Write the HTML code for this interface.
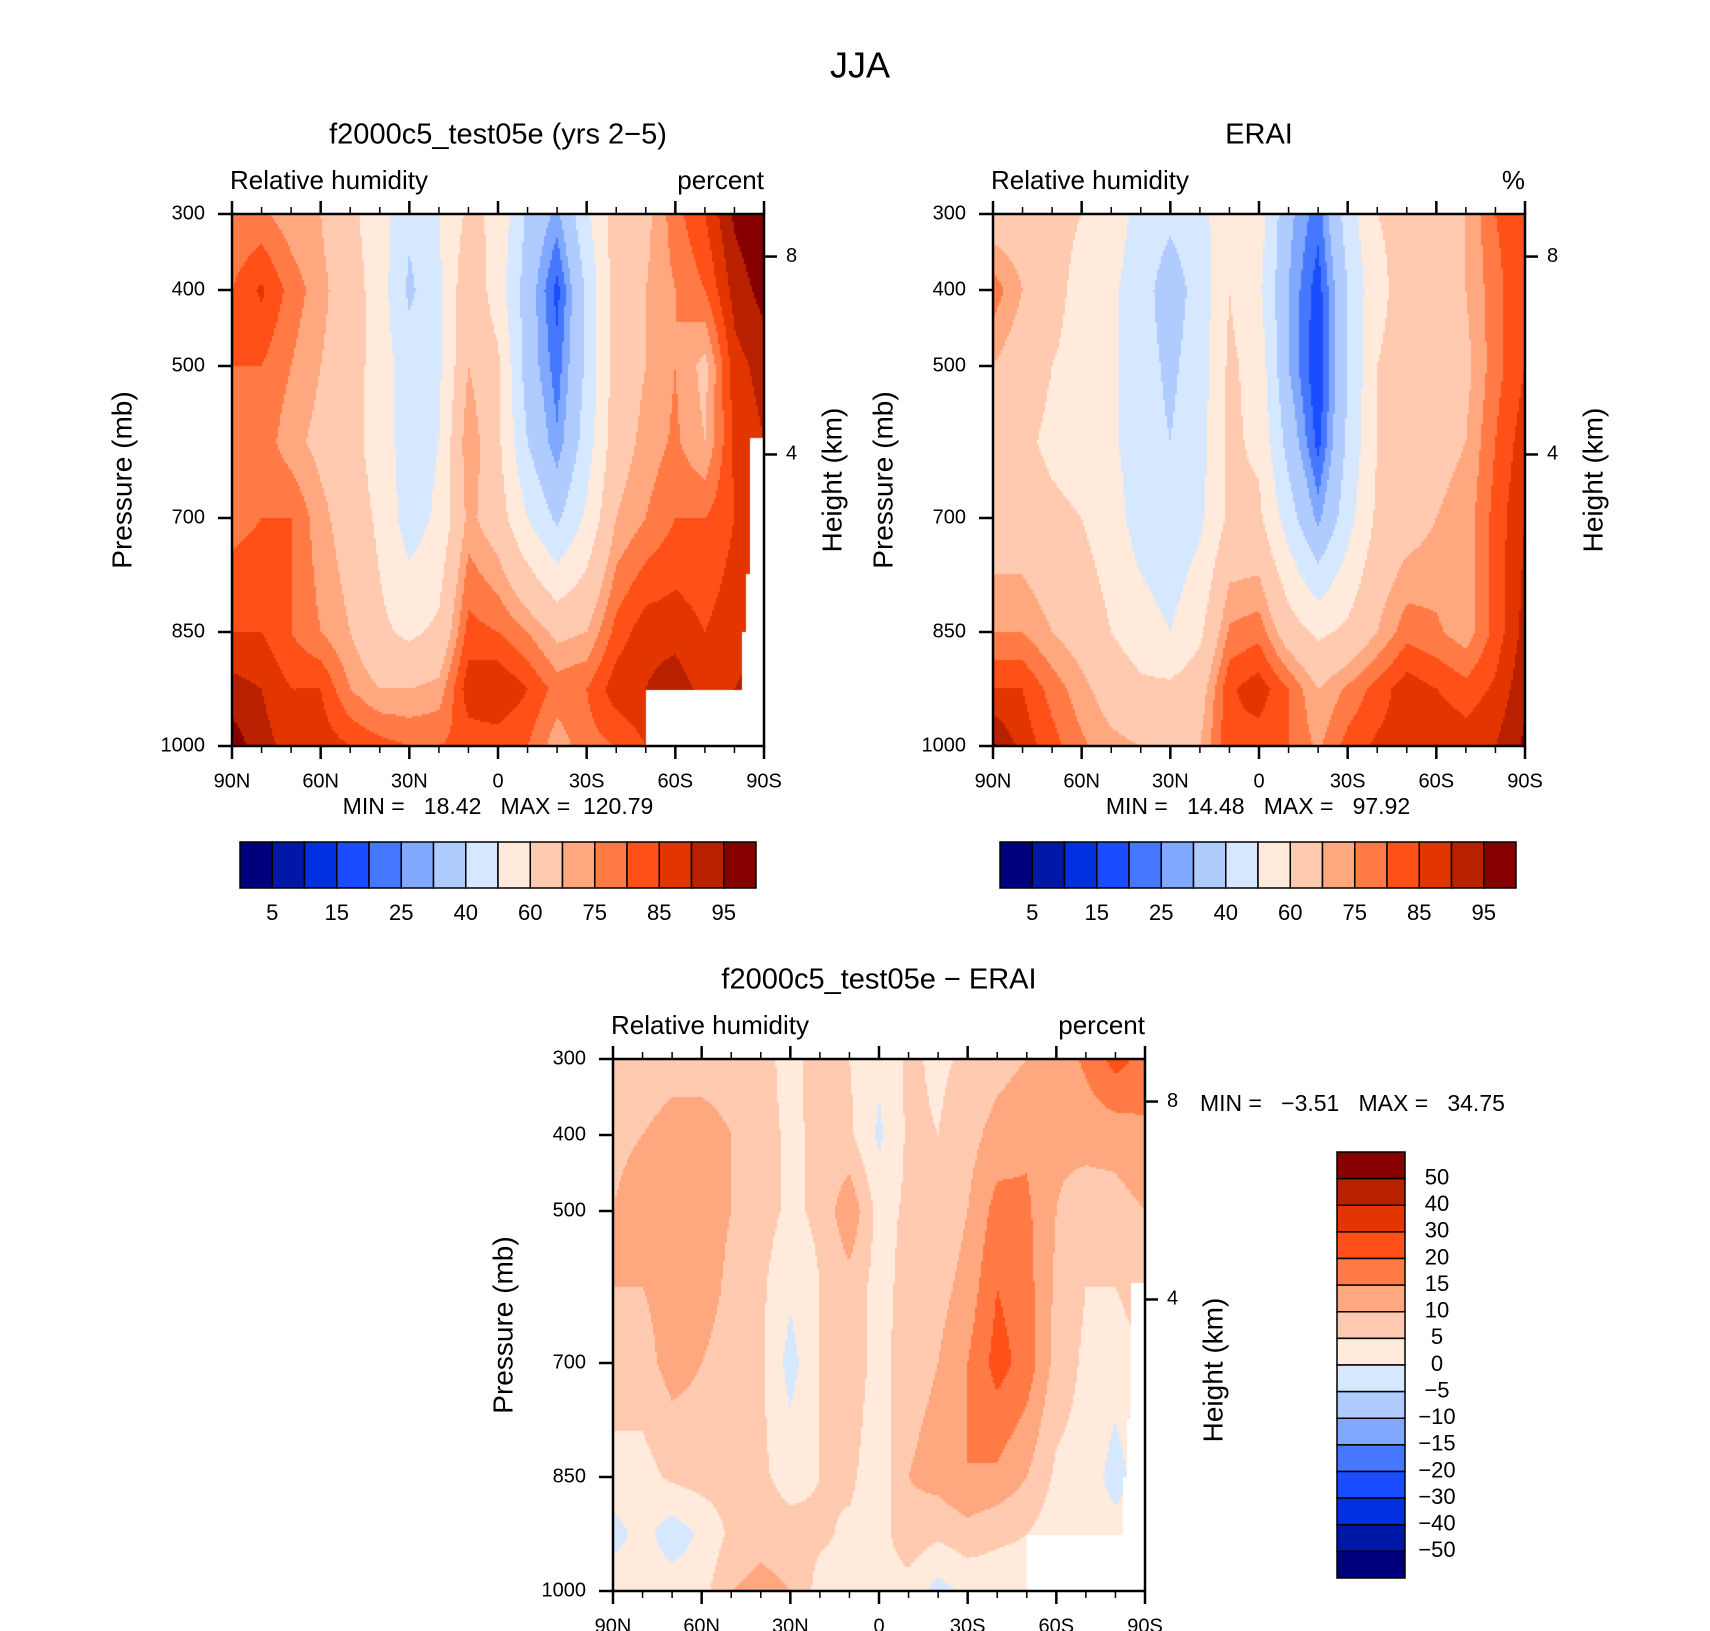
<!DOCTYPE html>
<html><head><meta charset="utf-8">
<style>
html,body{margin:0;padding:0;background:#fff;}
#wrap{position:relative;width:1710px;height:1631px;overflow:hidden;font-family:"Liberation Sans",sans-serif;}
canvas{position:absolute;}
svg{position:absolute;left:0;top:0;}
svg text{font-family:"Liberation Sans",sans-serif;fill:#000;white-space:pre;}
</style></head>
<body>
<div id="wrap">
<canvas id="c1"></canvas>
<canvas id="c2"></canvas>
<canvas id="c3"></canvas>
<svg id="svg" width="1710" height="1631"></svg>
</div>
<script>
const lats=[90,80,70,60,50,40,30,20,10,0,-10,-20,-30,-40,-50,-60,-70,-80,-90];
const plevs=[300,400,500,600,700,850,925,1000];
const modelRH=[
[75,80,80,80,78,85,92,98],[76,86,80,78,80,85,90,92],[72,78,75,72,80,80,85,88],[70,72,70,68,72,75,85,88],
[62,65,65,64,66,70,75,85],[55,55,55,55,58,62,70,82],[42,38,45,45,45,58,70,80],[50,48,48,50,52,62,72,80],
[62,68,70,75,72,82,88,82],[58,55,62,62,65,80,90,82],[38,35,35,40,50,75,85,80],[28,18,22,26,38,68,78,72],
[48,42,42,45,52,70,80,78],[65,65,65,66,70,82,88,80],[68,70,70,72,75,88,90,85],[78,75,75,76,80,88,93,90],
[85,80,68,70,80,85,88,88],[96,92,88,86,85,88,90,90],[100,97,92,90,88,90,92,92]];
const eraiRH=[
[65,78,70,65,65,75,85,96],[65,70,65,62,65,75,85,88],[62,62,60,58,62,70,78,82],[60,58,58,56,60,66,72,76],
[56,52,52,52,55,60,66,72],[46,44,44,44,45,55,62,70],[42,35,38,40,42,50,62,66],[46,44,45,46,48,58,66,70],
[58,60,62,62,62,76,84,84],[55,52,56,58,62,78,88,82],[32,30,30,36,45,65,80,80],[22,17,15,18,28,58,70,74],
[45,40,40,42,46,62,76,82],[60,58,60,60,62,70,82,86],[62,63,63,64,66,78,88,88],[66,68,68,68,70,76,85,90],
[70,70,68,70,72,72,82,88],[80,78,78,80,82,82,86,90],[85,85,85,88,90,92,94,96]];
const diffRH=[
[7,9,10,10,8,3,-2,3],[7,10,12,10,8,3,2,3],[8,12,13,12,12,6,-3,3],[8,12,12,12,10,7,1,3],
[8,10,10,9,8,7,6,10],[7,7,7,6,6,6,8,12],[3,4,4,1,-2,3,7,10],[8,6,6,5,5,5,6,3],
[5,6,14,8,8,6,4,3],[1,-1,3,3,3,2,3,3],[6,6,6,7,8,10,8,3],[4,5,6,8,10,12,6,-2],
[6,8,10,12,15,15,8,1],[8,12,17,20,22,14,6,2],[10,14,16,17,18,10,5,3],[12,11,10,9,8,4,2,2],
[16,12,7,5,4,3,2,2],[22,12,8,5,2,-2,2,2],[18,14,10,8,5,3,2,2]];
const absLevels=[5,10,15,20,25,30,40,50,60,70,75,80,85,90,95];
const absLabels=["5","15","25","40","60","75","85","95"];
const diffLevels=[-50,-40,-30,-20,-15,-10,-5,0,5,10,15,20,30,40,50];
const topoLat=[-50.3,-82.5,-84,-85.5];
const topoP=[925,851,773,595];
const pTicks=[300,400,500,700,850,1000];
const hTicks=[8,4];
const latTicks=[90,60,30,0,-30,-60,-90];
const latLabels=["90N","60N","30N","0","30S","60S","90S"];
const colors=["#00007f","#0018a8","#0030e0","#1a4dff","#4578ff","#80a8ff","#b0ccff","#d6e8ff","#ffeadb","#ffcab0","#ffa880","#ff7a45","#ff5018","#e23500","#b82000","#870000"];

const NS="http://www.w3.org/2000/svg";
const svg=document.getElementById('svg');
function mk(tag,attrs,name,parent){const e=document.createElementNS(NS,tag);for(const k in attrs)e.setAttribute(k,attrs[k]);


(parent||svg).appendChild(e);return e;}
function txt(x,y,s,size,anchor,name,rot){const t=mk('text',{x:x,y:y,'font-size':size,'text-anchor':anchor||'middle','dominant-baseline':'middle'},name);
if(rot)t.setAttribute('transform','rotate(-90 '+x+' '+y+')');t.textContent=s;return t;}

function interp(data,lat,p){
  let i=0;while(i<lats.length-2&&lat<lats[i+1])i++;
  const fi=(lats[i]-lat)/(lats[i]-lats[i+1]);
  let j=0;while(j<plevs.length-2&&p>plevs[j+1])j++;
  const fj=(p-plevs[j])/(plevs[j+1]-plevs[j]);
  const a=data[i][j]*(1-fj)+data[i][j+1]*fj, b=data[i+1][j]*(1-fj)+data[i+1][j+1]*fj;
  return a*(1-fi)+b*fi;
}
function masked(lat,p){for(let k=0;k<topoLat.length;k++){if(lat<=topoLat[k]&&p>topoP[k])return true;}return false;}

function panel(id,x0,y0,w,h,data,levels,useMask,opts){
  const xs=lat=>x0+(90-lat)/180*w, ys=p=>y0+(p-300)/700*h;
  const cv=document.getElementById(id);cv.width=w;cv.height=h;cv.style.left=x0+'px';cv.style.top=y0+'px';
  const ctx=cv.getContext('2d');const st=2;
  for(let px=0;px<w;px+=st){const lat=90-(px+st/2)/w*180;
    for(let py=0;py<h;py+=st){const p=300+(py+st/2)/h*700;
      if(useMask&&masked(lat,p)){continue;}
      const v=interp(data,lat,p);let c=0;while(c<levels.length&&v>=levels[c])c++;
      ctx.fillStyle=colors[c];ctx.fillRect(px,py,st,st);}}
  const g=mk('g',{},opts.name+'-axes');
  mk('rect',{x:x0,y:y0,width:w,height:h,fill:'none',stroke:'#000','stroke-width':2.5},opts.name+'-frame',g);
  for(let lat=90;lat>=-90;lat-=10){const major=lat%30===0;const L=major?13:7;const x=xs(lat);
    mk('line',{x1:x,y1:y0+h,x2:x,y2:y0+h+L,stroke:'#000','stroke-width':major?2.5:1.5},'x-tick',g);
    mk('line',{x1:x,y1:y0,x2:x,y2:y0-L,stroke:'#000','stroke-width':major?2.5:1.5},'x-tick-top',g);}
  latTicks.forEach((lat,k)=>txt(xs(lat),y0+h+36,latLabels[k],20,'middle','x-tick-label'));
  pTicks.forEach(p=>{mk('line',{x1:x0-14,y1:ys(p),x2:x0,y2:ys(p),stroke:'#000','stroke-width':2.5},'y-tick',g);
    txt(x0-27,ys(p),String(p),20,'end','y-tick-label');});
  hTicks.forEach(z=>{const p=1013.25*Math.pow(1-2.25577e-5*z*1000,5.25588);
    mk('line',{x1:x0+w,y1:ys(p),x2:x0+w+13,y2:ys(p),stroke:'#000','stroke-width':2.5},'height-tick',g);
    txt(x0+w+22,ys(p),String(z),20,'start','height-tick-label');});
  txt(x0-108,y0+h/2,'Pressure (mb)',28,'middle','y-axis-title',true);
  txt(x0+w+70,y0+h/2+opts.hOff,'Height (km)',28,'middle','height-axis-title',true);
  txt(x0-2,y0-32,'Relative humidity',26,'start','variable-label');
  txt(x0+w,y0-32,opts.unit,26,'end','units-label');
  txt(x0+w/2,y0-78,opts.title,29,'middle','panel-title');
}
function hbar(x0,y0,w,h,name,minmax,mmx){
  const bw=w/colors.length;
  colors.forEach((c,k)=>mk('rect',{x:x0+k*bw,y:y0,width:bw,height:h,fill:c,stroke:'#000','stroke-width':1.5},name+'-box'));
  absLabels.forEach((s,k)=>txt(x0+(2*k+1)*bw,y0+h+26,s,22,'middle',name+'-label'));
  txt(mmx,y0-34,minmax,23,'middle',name+'-min-max');
}
txt(860,68,'JJA',36,'middle','figure-title');
panel('c1',232,214,532,532,modelRH,absLevels,true,{name:'model',title:'f2000c5_test05e (yrs 2\u22125)',unit:'percent',hOff:0});
panel('c2',993,214,532,532,eraiRH,absLevels,false,{name:'erai',title:'ERAI',unit:'%',hOff:0});
panel('c3',613,1059,532,532,diffRH,diffLevels,true,{name:'difference',title:'f2000c5_test05e \u2212 ERAI',unit:'percent',hOff:45});
hbar(240,842,516,46,'model-colorbar','MIN =   18.42   MAX =  120.79',498);
hbar(1000,842,516,46,'erai-colorbar','MIN =   14.48   MAX =   97.92',1258);
txt(1200,1105,'MIN =   \u22123.51   MAX =   34.75',23,'start','difference-min-max');
const vb=(1578-1152)/colors.length;
for(let k=0;k<colors.length;k++){mk('rect',{x:1337,y:1152+k*vb,width:68,height:vb,fill:colors[colors.length-1-k],stroke:'#000','stroke-width':1.5},'difference-colorbar-box');}
for(let k=0;k<diffLevels.length;k++){const v=diffLevels[diffLevels.length-1-k];
  txt(1437,1152+(k+1)*vb,(v<0?'\u2212':'')+Math.abs(v),22,'middle','difference-colorbar-label');}
</script>
</body></html>
